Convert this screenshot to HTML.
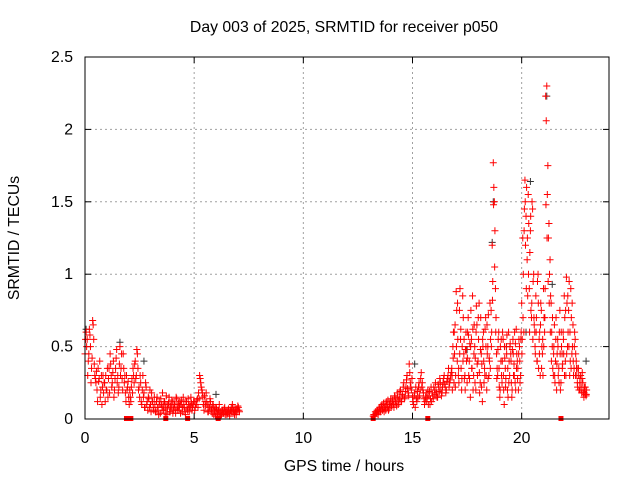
<!DOCTYPE html>
<html><head><meta charset="utf-8"><style>
body{margin:0;background:#fff}
svg{display:block;font-family:"Liberation Sans",sans-serif}
</style></head><body>
<svg id="chart" width="640" height="480" viewBox="0 0 640 480">
<rect x="0" y="0" width="640" height="480" fill="#fff"/>
<text x="344" y="32" font-size="15.8" text-anchor="middle">Day 003 of 2025, SRMTID for receiver p050</text>
<text x="344" y="471" font-size="15.8" text-anchor="middle">GPS time / hours</text>
<text transform="translate(19,238) rotate(-90)" font-size="15.8" text-anchor="middle">SRMTID / TECUs</text>
<g id="grid"></g>
<g id="axes"></g>
<g id="marks"></g>
<rect x="85" y="57" width="524" height="362" fill="none" stroke="#000" stroke-width="1"/>
</svg>
<script>
const xTicks = [0,5,10,15,20];
const yTicks = [0,0.5,1,1.5,2,2.5];
const yTickLabels = ["0","0.5","1","1.5","2","2.5"];
const segStart = [0.0,0.025,1.8,1.825,3.2,3.225,13.2,13.225,16.8,16.825,16.8125];
const segStep = [0.05,0.05,0.05,0.05,0.05,0.05,0.05,0.05,0.05,0.05,0.05];
const segValues = [
[.45,.6,.55,.4,.62,.5,.35,.68,.55,.3,.25,.2,.35,.28,.15,.3,.22,.18,.25,.3,.2,.15,.35,.45,.3,.25,.4,.2,.35,.48,.3,.22,.5,.35,.28,.45],
[.55,.5,.3,.45,.58,.25,.42,.65,.38,.28,.33,.12,.26,.4,.2,.1,.3,.25,.12,.2,.35,.28,.18,.38,.22,.32,.15,.28,.42,.25,.18,.38,.3,.45,.2,.35],
[.25,.18,.3,.22,.15,.2,.12,.28,.35,.25,.4,.3,.45,.2,.15,.25,.1,.3,.18,.08,.22,.12,.15,.08,.1,.18,.12,.06],
[.3,.12,.2,.26,.1,.15,.22,.18,.3,.38,.28,.48,.35,.22,.3,.12,.2,.15,.08,.25,.1,.06,.14,.2,.05,.12,.08,.15],
[.1,.05,.15,.08,.12,.04,.1,.18,.06,.12,.08,.03,.1,.15,.05,.08,.12,.06,.1,.04,
.14,.08,.06,.12,.1,.05,.15,.08,.03,.12,.06,.1,.08,.15,.06,.1,.12,.08,.1,.14,
.18,.3,.25,.2,.15,.06,.12,.18,.1,.05,.08,.12,.06,.1,.03,.05,.08,.04,.06,.1,
.05,.03,.06,.04,.08,.05,.03,.06,.04,.05,.08,.1,.06,.03,.05,.07,.09,.06],
[.05,.12,.08,.03,.1,.14,.06,.09,.12,.04,.16,.07,.11,.05,.09,.13,.04,.1,.07,.15,
.06,.11,.09,.04,.13,.08,.1,.05,.12,.07,.14,.05,.09,.11,.08,.12,.06,.1,.13,.08,
.14,.28,.22,.18,.1,.16,.09,.12,.05,.1,.14,.07,.04,.09,.06,.02,.07,.04,.06,.03,
.02,.06,.04,.07,.03,.05,.04,.07,.02,.06,.05,.08,.04,.07,.03,.06,.08,.05],
[.02,.03,.05,.04,.06,.05,.08,.06,.1,.07,.05,.09,.12,.08,.06,.1,.14,.09,.12,.08,
.15,.11,.18,.1,.14,.2,.12,.16,.25,.15,.22,.3,.18,.38,.25,.2,.15,.1,.18,.22,
.12,.15,.25,.2,.32,.25,.18,.1,.15,.12,.2,.16,.1,.22,.18,.14,.2,.25,.18,.15,
.22,.28,.2,.18,.25,.3,.22,.2,.28,.35,.25,.3],
[.03,.02,.04,.06,.03,.07,.05,.09,.06,.11,.08,.06,.1,.13,.07,.11,.09,.13,.1,.16,
.12,.09,.15,.13,.19,.12,.17,.22,.14,.19,.27,.21,.16,.32,.22,.28,.12,.16,.08,.14,
.19,.22,.16,.28,.22,.2,.14,.12,.18,.15,.1,.19,.14,.12,.16,.22,.17,.2,.15,.24,
.19,.25,.16,.22,.28,.24,.18,.26,.3,.22,.27,.32],
[.35,.5,.25,.65,.88,.4,.3,.75,.55,.2,.85,.45,.3,.6,
.25,.7,.4,.15,.55,.85,.3,.5,.2,.65,.4,.8,.25,.45,.12,.6,.35,.7,.2,.5,.3,.8,
.75,1.2,1.77,1.5,.9,
.45,.3,.6,.15,.4,.25,.55,.1,.35,.5,.2,.6,.3,.45,.15,.55,.38,.25,.62,.4,.2,.5,.3,
.8,1.25,.6,1.65,1.4,1.1,1.55,.9,1.3,.7,1.45,1.0,
.6,.85,.4,1.0,.55,.3,.75,.45,.9,
.6,2.23,2.3,1.75,1.35,
1.1,.8,.5,.3,.65,.4,.2,.55,.35,.75,.25,.45,
.6,.85,.4,.98,.5,.75,.3,.9,.45,.65,.35,.55,
.4,.25,.35,.2,.3,.18,.25,.15,.2,.16],
[.2,.6,.45,.3,.75,.55,.25,.9,.35,.5,.7,.28,.48,.4,
.6,.3,.52,.75,.35,.2,.65,.42,.78,.3,.55,.18,.7,.38,.5,.25,.62,.3,.45,.72,.4,.55,
.6,.95,1.6,1.3,.7,
.35,.55,.22,.5,.3,.6,.2,.42,.28,.58,.15,.4,.52,.25,.48,.3,.6,.2,.45,.35,.55,.25,.6,
.55,1.0,1.45,1.2,1.6,.85,1.35,1.15,.75,1.5,.95,.65,
.45,.7,.95,.35,.6,.8,.5,.3,.7,
.9,2.06,1.55,1.25,1.0,
.85,.6,.35,.5,.25,.7,.45,.3,.6,.2,.5,.38,
.45,.7,.3,.8,.6,.95,.4,.7,.5,.3,.6,.45,
.3,.35,.2,.28,.22,.32,.18,.22,.17,.2],
[.3,.42,.6,.22,.5,.8,.35,.45,.62,.28,.4,.55,.2,.48,
.42,.58,.28,.5,.35,.62,.45,.25,.6,.38,.7,.32,.48,.22,.55,.4,.3,.5,.65,.28,.42,.35,
.5,.82,1.48,1.05,.6,
.28,.48,.35,.2,.55,.4,.3,.5,.22,.45,.35,.25,.5,.4,.2,.45,.3,.52,.35,.28,.45,.4,.55,
.45,.7,1.3,1.5,.9,1.25,1.0,.6,1.4,.8,.55,.7,
.5,.6,.4,.8,.45,.65,.35,.55,.5,
.7,1.48,1.25,.95,.8,
.6,.4,.7,.45,.3,.55,.38,.5,.25,.45,.6,.35,
.55,.3,.75,.45,.85,.5,.6,.35,.8,.4,.5,.3,
.35,.22,.3,.25,.2,.28,.2,.18,.22,.17]
];
const blackTimes = [0.05,1.6,2.7,6.0,15.1,17.5,18.65,18.7,19.3,20.2,20.4,21.15,21.4,22.95];
const blackValues = [0.62,0.53,0.4,0.17,0.38,0.48,1.22,1.5,0.5,0.6,1.64,2.23,0.93,0.4];
const gapTimes = [1.9,2.0,2.1,3.7,4.7,6.1,13.2,15.7,21.8];

const X0=85, X1=609, Y0=419, Y1=57, XMAX=24, YMAX=2.5;
const sx = t => X0 + (t/XMAX)*(X1-X0);
const sy = v => Y0 - (v/YMAX)*(Y0-Y1);
const NS="http://www.w3.org/2000/svg";
function mk(tag, attrs, parent){const e=document.createElementNS(NS,tag);for(const k in attrs)e.setAttribute(k,attrs[k]);parent.appendChild(e);return e;}
const grid=document.getElementById('grid'), axes=document.getElementById('axes'), marks=document.getElementById('marks');

xTicks.forEach(t=>{
  const x=sx(t);
  if(t>0){const g=mk('line',{x1:x,y1:Y0,x2:x,y2:Y1,stroke:'#a0a0a0','stroke-dasharray':'2,3'},grid);
    
    }
  mk('line',{x1:x,y1:Y0,x2:x,y2:Y0-6,stroke:'#000'},axes);
  mk('line',{x1:x,y1:Y1,x2:x,y2:Y1+6,stroke:'#000'},axes);
  const l=mk('text',{x:x,y:Y0+24,'font-size':'15.8','text-anchor':'middle'},axes);
  l.textContent=String(t);
  
  
});
yTicks.forEach((v,i)=>{
  const y=sy(v);
  if(v>0&&v<YMAX){const g=mk('line',{x1:X0,y1:y,x2:X1,y2:y,stroke:'#a0a0a0','stroke-dasharray':'2,3'},grid);
    
    }
  mk('line',{x1:X0,y1:y,x2:X0+6,y2:y,stroke:'#000'},axes);
  mk('line',{x1:X1,y1:y,x2:X1-6,y2:y,stroke:'#000'},axes);
  const l=mk('text',{x:X0-12,y:y+5,'font-size':'15.8','text-anchor':'end'},axes);
  l.textContent=yTickLabels[i];
  
  
});

function plus(t,v,color,name){
  const x=sx(t), y=sy(v);
  const p=mk('path',{d:`M${x-3.5},${y}H${x+3.5}M${x},${y-3.5}V${y+3.5}`,stroke:color,'stroke-width':1,fill:'none'},marks);
  
  
}
blackTimes.forEach((t,i)=>plus(t,blackValues[i],'#333','black-point'));
segValues.forEach((vals,s)=>{
  vals.forEach((v,i)=>plus(segStart[s]+i*segStep[s],v,'#ff0000','srmtid-point'));
});
gapTimes.forEach(t=>{
  const r=mk('rect',{x:sx(t)-2.5,y:Y0-3,width:5,height:5,fill:'#ff0000'},marks);
  
  
});
</script>
</body></html>
